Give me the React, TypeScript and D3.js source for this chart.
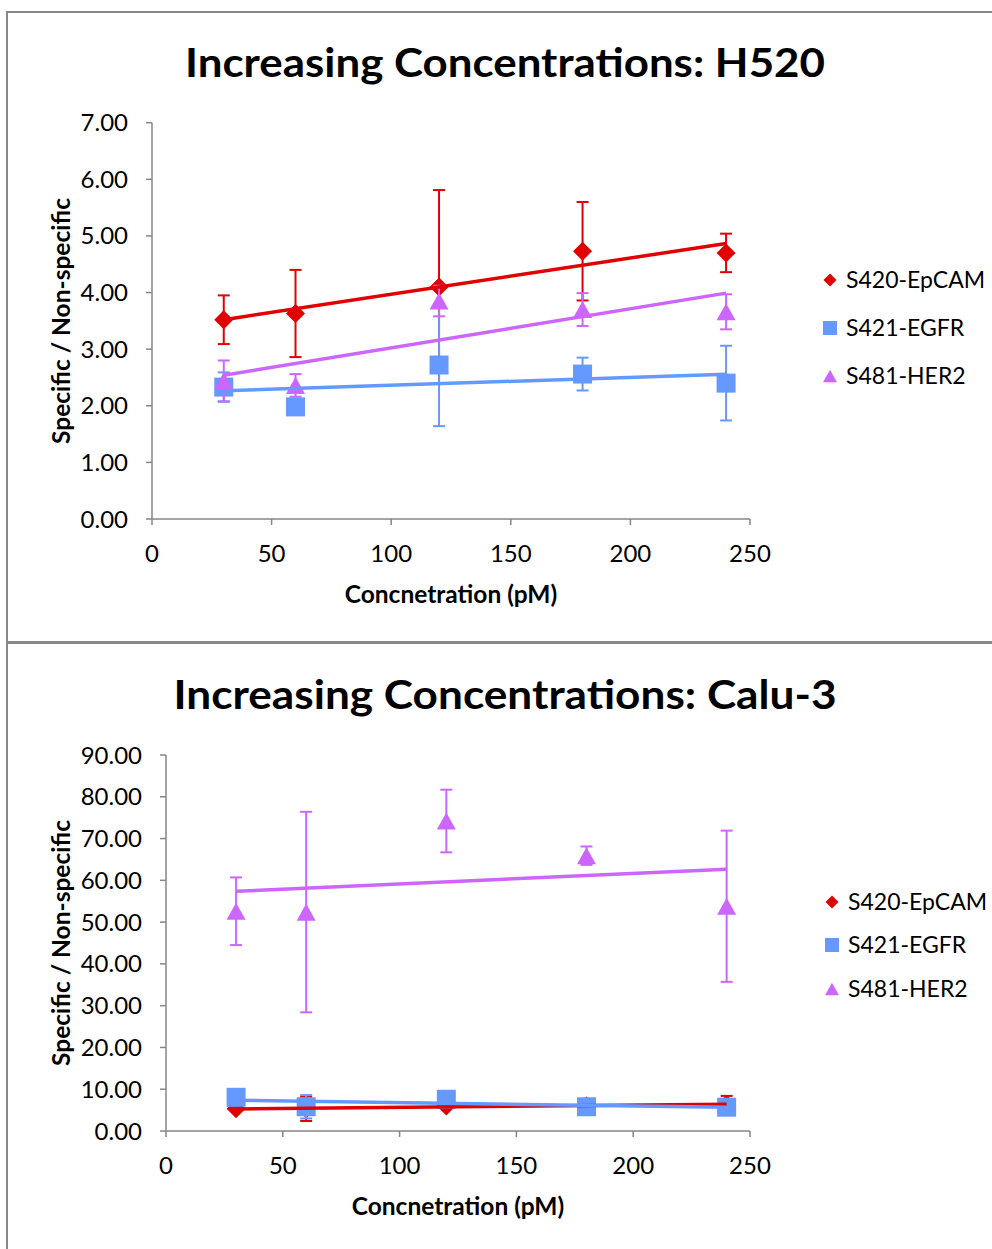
import React from 'react';
import * as d3 from 'd3';

// ---------- data ----------
const concentrations = [30, 60, 120, 180, 240];
const seriesNames = ['S420-EpCAM', 'S421-EGFR', 'S481-HER2'];
const seriesColors = ['#E00000', '#6699FF', '#CC66FF'];
const markerShapes = ['diamond', 'square', 'triangle'];

const h520EpCAM = [3.52, 3.63, 4.10, 4.73, 4.70];
const h520EpCAMErr = [0.43, 0.77, 1.71, 0.87, 0.34];
const h520EGFR = [2.33, 1.98, 2.72, 2.56, 2.40];
const h520EGFRErr = [0.26, 0.08, 1.08, 0.29, 0.66];
const h520HER2 = [2.44, 2.36, 3.85, 3.70, 3.66];
const h520HER2Err = [0.36, 0.20, 0.27, 0.29, 0.31];

const calu3EpCAM = [5.3, 5.3, 6.0, 6.0, 6.4];
const calu3EpCAMErr = [0.5, 2.9, 0.4, 0.4, 2.0];
const calu3EGFR = [8.07, 5.8, 7.6, 5.8, 5.7];
const calu3EGFRErr = [0.5, 2.8, 0.5, 0.5, 0.5];
const calu3HER2 = [52.6, 52.4, 74.2, 65.9, 53.8];
const calu3HER2Err = [8.1, 24.0, 7.5, 2.2, 18.1];

const xTickValues = [0, 50, 100, 150, 200, 250];
const h520YTicks = [0, 1, 2, 3, 4, 5, 6, 7];
const calu3YTicks = [0, 10, 20, 30, 40, 50, 60, 70, 80, 90];

const FONT = 'Lato, "Open Sans", sans-serif';
const AXIS_COLOR = '#868686';
const TICK_FS = 24;
const LEGEND_FS = 23;
const AXIS_TITLE_FS = 24.5;

type Layout = {
  x0: number; x1: number; yBottom: number; yTop: number; yMax: number;
  titleX: number; titleY: number; titleText: string; titleLen: number;
  yLabelX: number; yLabelY: number; xLabelX: number; xLabelY: number;
  legendX: number; legendRows: number[];
};

function linearFit(xs: number[], ys: number[]) {
  const mx = d3.mean(xs)!;
  const my = d3.mean(ys)!;
  let sxy = 0, sxx = 0;
  xs.forEach((x, i) => { sxy += (x - mx) * (ys[i] - my); sxx += (x - mx) * (x - mx); });
  const slope = sxy / sxx;
  return (x: number) => my + slope * (x - mx);
}

function markerPath(shape: string, cx: number, cy: number, s: number) {
  const p = d3.path();
  if (shape === 'diamond') {
    p.moveTo(cx, cy - s); p.lineTo(cx + s, cy); p.lineTo(cx, cy + s); p.lineTo(cx - s, cy); p.closePath();
  } else if (shape === 'square') {
    p.rect(cx - s, cy - s, 2 * s, 2 * s);
  } else {
    const h = s * 0.9;
    p.moveTo(cx, cy - h); p.lineTo(cx + s, cy + h); p.lineTo(cx - s, cy + h); p.closePath();
  }
  return p.toString();
}

function Panel({ layout, values, errors, yTicks }: { layout: Layout; values: number[][]; errors: number[][]; yTicks: number[] }) {
  const x = d3.scaleLinear().domain([0, 250]).range([layout.x0, layout.x1]);
  const y = d3.scaleLinear().domain([0, layout.yMax]).range([layout.yBottom, layout.yTop]);
  const fmt = d3.format('.2f');
  return (
    <g>
      <text x={layout.titleX} y={layout.titleY} textAnchor="middle" fontFamily={FONT} fontWeight="bold" fontSize={40}
        textLength={layout.titleLen} lengthAdjust="spacingAndGlyphs" fill="#000">{layout.titleText}</text>
      {/* axes */}
      <line x1={layout.x0} x2={layout.x0} y1={y(layout.yMax)} y2={layout.yBottom} stroke={AXIS_COLOR} strokeWidth={1.5} />
      <line x1={layout.x0} x2={layout.x1} y1={layout.yBottom} y2={layout.yBottom} stroke={AXIS_COLOR} strokeWidth={1.5} />
      {yTicks.map(t => (
        <g key={'y' + t}>
          <line x1={layout.x0 - 6} x2={layout.x0} y1={y(t)} y2={y(t)} stroke={AXIS_COLOR} strokeWidth={1.5} />
          <text x={layout.x0 - 24} y={y(t) + 8.5} textAnchor="end" fontFamily={FONT} fontSize={TICK_FS} fill="#000">{fmt(t)}</text>
        </g>
      ))}
      {xTickValues.map(t => (
        <g key={'x' + t}>
          <line x1={x(t)} x2={x(t)} y1={layout.yBottom} y2={layout.yBottom + 6} stroke={AXIS_COLOR} strokeWidth={1.5} />
          <text x={x(t)} y={layout.yBottom + 43} textAnchor="middle" fontFamily={FONT} fontSize={TICK_FS} fill="#000">{t}</text>
        </g>
      ))}
      <text transform={`translate(${layout.yLabelX},${layout.yLabelY}) rotate(-90)`} textAnchor="middle" dominantBaseline="central"
        fontFamily={FONT} fontWeight="bold" fontSize={AXIS_TITLE_FS} fill="#000">Specific / Non-specific</text>
      <text x={layout.xLabelX} y={layout.xLabelY + 8.5} textAnchor="middle" fontFamily={FONT} fontWeight="bold" fontSize={AXIS_TITLE_FS} fill="#000">Concnetration (pM)</text>
      {/* series: error bars + markers */}
      {values.map((vals, si) => (
        <g key={'s' + si}>
          {vals.map((v, i) => {
            const cx = x(concentrations[i]);
            const e = errors[si][i];
            return (
              <g key={i} stroke={seriesColors[si]} strokeWidth={2}>
                <line x1={cx} x2={cx} y1={y(v + e)} y2={y(v - e)} />
                <line x1={cx - 6} x2={cx + 6} y1={y(v + e)} y2={y(v + e)} />
                <line x1={cx - 6} x2={cx + 6} y1={y(v - e)} y2={y(v - e)} />
              </g>
            );
          })}
          {vals.map((v, i) => (
            <path key={'m' + i} d={markerPath(markerShapes[si], x(concentrations[i]), y(v), 9.5)} fill={seriesColors[si]} />
          ))}
        </g>
      ))}
      {/* trendlines */}
      {values.map((vals, si) => {
        const f = linearFit(concentrations, vals);
        const pts = [30, 240];
        const d = d3.line<number>().x(c => x(c)).y(c => y(f(c)))(pts) || '';
        return <path key={'t' + si} d={d} stroke={seriesColors[si]} strokeWidth={3.5} fill="none" />;
      })}
      {/* legend */}
      {seriesNames.map((n, si) => (
        <g key={'l' + si}>
          <path d={markerPath(markerShapes[si], layout.legendX, layout.legendRows[si], si === 0 ? 6.5 : 7)} fill={seriesColors[si]} />
          <text x={layout.legendX + 16} y={layout.legendRows[si] + 8} fontFamily={FONT} fontSize={LEGEND_FS} fill="#000">{n}</text>
        </g>
      ))}
    </g>
  );
}

const topLayout: Layout = {
  x0: 152, x1: 750, yBottom: 519, yTop: 122.7, yMax: 7,
  titleX: 505, titleY: 77, titleText: 'Increasing Concentrations: H520', titleLen: 640,
  yLabelX: 60, yLabelY: 321, xLabelX: 451, xLabelY: 594,
  legendX: 830, legendRows: [280, 328, 376],
};

const bottomLayout: Layout = {
  x0: 166, x1: 750, yBottom: 1131, yTop: 755, yMax: 90,
  titleX: 505, titleY: 709, titleText: 'Increasing Concentrations: Calu-3', titleLen: 663,
  yLabelX: 60, yLabelY: 943, xLabelX: 458, xLabelY: 1206,
  legendX: 832, legendRows: [902, 945, 989],
};

export default function App() {
  return (
    <svg width={992} height={1249} style={{ position: 'absolute', left: 0, top: 0, background: '#fff' }}>
      <rect x={0} y={0} width={992} height={1249} fill="#fff" />
      <rect x={7} y={12} width={1100} height={630} fill="none" stroke="#888" strokeWidth={2} />
      <rect x={7} y={643} width={1100} height={700} fill="none" stroke="#888" strokeWidth={2} />
      <Panel layout={topLayout} values={[h520EpCAM, h520EGFR, h520HER2]} errors={[h520EpCAMErr, h520EGFRErr, h520HER2Err]} yTicks={h520YTicks} />
      <Panel layout={bottomLayout} values={[calu3EpCAM, calu3EGFR, calu3HER2]} errors={[calu3EpCAMErr, calu3EGFRErr, calu3HER2Err]} yTicks={calu3YTicks} />
    </svg>
  );
}
